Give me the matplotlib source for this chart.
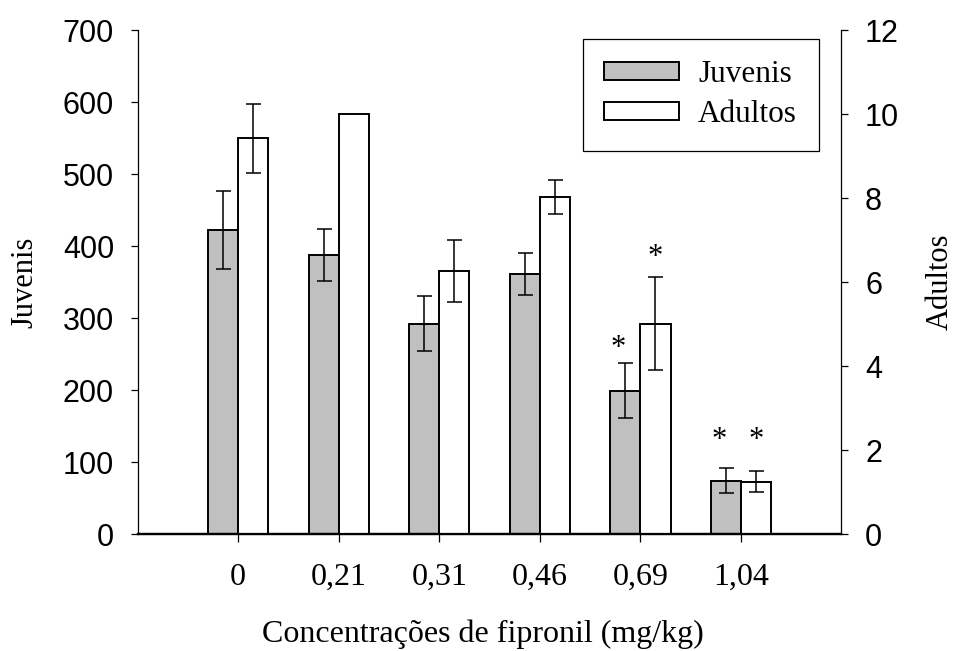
import matplotlib.pyplot as plt
from matplotlib.patches import Patch
import numpy as np

# data
doses = ['0', '0,21', '0,31', '0,46', '0,69', '1,04']
juvenis = [422, 387, 292, 361, 199, 74]
juvenis_err = [54, 36, 38, 29, 38, 17]
adultos = [9.42, 10.0, 6.26, 8.02, 5.01, 1.25]
adultos_err = [0.82, 0.0, 0.74, 0.41, 1.1, 0.26]
# significance marks: (group, series, height in that series' units)
marks = [(4, 'j', 257), (4, 'a', 6.59), (5, 'j', 130), (5, 'a', 2.23)]

serif = 'Liberation Serif'
sans = 'Liberation Sans'

fig = plt.figure(figsize=(9.56, 6.51), dpi=100)
ax = fig.add_axes([0.144, 0.1797, 0.7362, 0.7742])
ax2 = ax.twinx()

x = np.arange(len(doses))
w = 0.3

ax.bar(x - w / 2, juvenis, w, color='#c0c0c0', edgecolor='black', linewidth=1.4, zorder=2)
ax.errorbar(x - w / 2, juvenis, yerr=juvenis_err, fmt='none', ecolor='black',
            elinewidth=1.1, capsize=5.4, capthick=1.1, zorder=3)
ax2.bar(x + w / 2, adultos, w, color='white', edgecolor='black', linewidth=1.4, zorder=2)
err = np.array(adultos_err)
mask = err > 0
ax2.errorbar((x + w / 2)[mask], np.array(adultos)[mask], yerr=err[mask], fmt='none',
             ecolor='black', elinewidth=1.1, capsize=5.4, capthick=1.1, zorder=3)

ax.set_xlim(-1, 6)
ax.set_ylim(0, 700)
ax2.set_ylim(0, 12)
ax.set_yticks(range(0, 701, 100))
ax2.set_yticks(range(0, 13, 2))
ax.set_xticks(x)
ax.set_xticklabels(doses, fontfamily=serif, fontsize=23)

for a in (ax, ax2):
    a.spines['top'].set_visible(False)
    a.spines['left'].set_linewidth(0.9)
    a.spines['right'].set_linewidth(0.9)
    a.spines['bottom'].set_linewidth(1.6)
ax.spines['right'].set_visible(False)
ax2.spines['left'].set_visible(False)

ax.tick_params(axis='y', direction='out', length=5, width=0.9, pad=12, labelsize=22)
ax2.tick_params(axis='y', direction='out', length=5, width=0.9, pad=12, labelsize=22)
ax.tick_params(axis='x', direction='out', length=5.5, width=0.9, pad=15.5)
for lab in ax.get_yticklabels() + ax2.get_yticklabels():
    lab.set_fontfamily(sans)

ax.set_ylabel('Juvenis', fontfamily=serif, fontsize=22, labelpad=17)
ax2.set_ylabel('Adultos', fontfamily=serif, fontsize=22, labelpad=19)
ax.set_xlabel('Concentrações de fipronil (mg/kg)', fontfamily=serif, fontsize=23, labelpad=20)
ax.xaxis.label.set_x(0.49)

for g, s, h in marks:
    if s == 'j':
        ax.text(g - w / 2 - 0.07, h, '*', ha='center', va='center', fontfamily=serif, fontsize=22)
    else:
        ax2.text(g + w / 2, h, '*', ha='center', va='center', fontfamily=serif, fontsize=22)

handles = [Patch(facecolor='#c0c0c0', edgecolor='black', linewidth=1.4),
           Patch(facecolor='white', edgecolor='black', linewidth=1.4)]
leg = ax2.legend(handles, ['Juvenis', 'Adultos'], loc='upper right',
                 bbox_to_anchor=(0.968, 0.983), borderaxespad=0, fancybox=False,
                 edgecolor='black', framealpha=1, handlelength=2.4, handleheight=0.5,
                 handletextpad=0.6, labelspacing=0.35, borderpad=0.7,
                 prop={'family': serif, 'size': 22.5})
leg.get_frame().set_linewidth(0.9)

fig.savefig('out.png', dpi=100)
